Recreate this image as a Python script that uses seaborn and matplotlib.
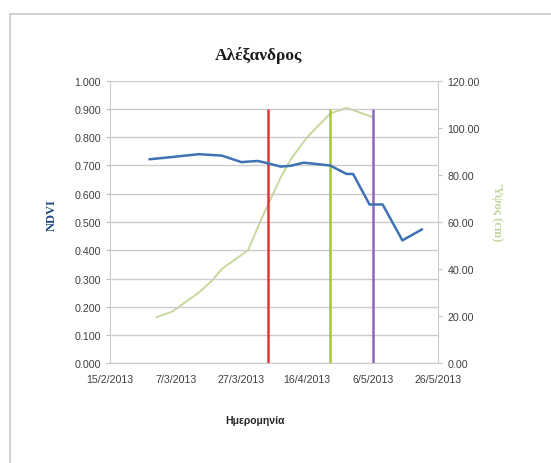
import matplotlib
matplotlib.use("Agg")
import matplotlib.pyplot as plt
from matplotlib.patches import Rectangle
import seaborn as sns
import pandas as pd

# ---------------- data ----------------
ndvi_dates = ["2013-02-27", "2013-03-06", "2013-03-14", "2013-03-21", "2013-03-27",
              "2013-04-01", "2013-04-04", "2013-04-08", "2013-04-11", "2013-04-15",
              "2013-04-23", "2013-04-26", "2013-04-28", "2013-04-30", "2013-05-05",
              "2013-05-09", "2013-05-15", "2013-05-21"]
ndvi_values = [0.722, 0.730, 0.740, 0.735, 0.712, 0.716, 0.708, 0.696, 0.699, 0.710,
               0.700, 0.682, 0.670, 0.670, 0.562, 0.562, 0.435, 0.474]

height_dates = ["2013-03-01", "2013-03-06", "2013-03-10", "2013-03-14", "2013-03-18",
                "2013-03-21", "2013-03-25", "2013-03-29", "2013-04-02", "2013-04-04",
                "2013-04-08", "2013-04-11", "2013-04-16", "2013-04-23", "2013-04-28",
                "2013-05-06"]
height_values = [19.5, 22.0, 26.0, 30.0, 35.0, 40.0, 44.0, 48.0, 61.0, 67.0,
                 79.0, 86.5, 96.0, 106.0, 108.5, 104.5]

event_dates = ["2013-04-04", "2013-04-23", "2013-05-06"]
event_tops = [0.900, 0.900, 0.900]
event_colors = ["#D8393A", "#A3C63B", "#8A66B8"]

x_ticks = ["2013-02-15", "2013-03-07", "2013-03-27", "2013-04-16", "2013-05-06", "2013-05-26"]
x_tick_labels = ["15/2/2013", "7/3/2013", "27/3/2013", "16/4/2013", "6/5/2013", "26/5/2013"]
ndvi_ticks = [0.0, 0.1, 0.2, 0.3, 0.4, 0.5, 0.6, 0.7, 0.8, 0.9, 1.0]
height_ticks = [0, 20, 40, 60, 80, 100, 120]

title = "Αλέξανδρος"
xlabel = "Ημερομηνία"
ylabel_left = "NDVI"
ylabel_right = "Ύψος (cm)"

# ---------------- style ----------------
sns.set_style("white")
plt.rcParams['font.family'] = ['Liberation Sans', 'DejaVu Sans']

df_ndvi = pd.DataFrame({"date": pd.to_datetime(ndvi_dates), "ndvi": ndvi_values})
df_h = pd.DataFrame({"date": pd.to_datetime(height_dates), "h": height_values})

fig = plt.figure(figsize=(5.51, 4.64), dpi=100)
fig.patches.append(Rectangle((10 / 551, -0.1), 1.2, (464 - 15) / 464 + 0.1,
                             transform=fig.transFigure, fill=False,
                             edgecolor="#C8C8C8", linewidth=1.2))

ax = fig.add_axes([110 / 551, (464 - 364.3) / 464, 328.5 / 551, 282.6 / 464])
ax2 = ax.twinx()

gridc = "#CCCCCC"
ax.set_ylim(0, 1.0)
ax.set_yticks(ndvi_ticks)
ax.set_yticklabels([f"{v:.3f}" for v in ndvi_ticks])
ax.yaxis.grid(True, color=gridc, linewidth=1.0)
ax.set_axisbelow(True)

ax2.set_ylim(0, 120)
ax2.set_yticks(height_ticks)
ax2.set_yticklabels([f"{v:.2f}" for v in height_ticks])

xt = pd.to_datetime(x_ticks)
ax.set_xlim(xt[0], xt[-1])
ax.set_xticks(xt)
ax.set_xticklabels(x_tick_labels)

sns.lineplot(data=df_h, x="date", y="h", ax=ax2, color="#C6D89C", linewidth=1.4)
ax.set_zorder(ax2.get_zorder() + 1)
ax.patch.set_visible(False)

for d, top, c in zip(event_dates, event_tops, event_colors):
    ax.vlines(pd.to_datetime(d), 0, top, color=c, linewidth=1.8, zorder=3)

sns.lineplot(data=df_ndvi, x="date", y="ndvi", ax=ax, color="#3F72B5", linewidth=1.8, zorder=4)

for a in (ax, ax2):
    a.spines["top"].set_visible(False)
    a.spines["left"].set_color(gridc)
    a.spines["bottom"].set_color(gridc)
    a.spines["right"].set_color(gridc)
    a.tick_params(axis="both", which="major", length=3, width=0.8, color="#BFBFBF",
                  labelsize=7.7, labelcolor="#404040", pad=3.5, direction="out")
    a.set_xlabel("")
    a.set_ylabel("")
ax.tick_params(axis="x", pad=4.5)
ax.spines["right"].set_visible(False)
ax2.spines["left"].set_visible(False)
ax2.spines["bottom"].set_visible(False)
ax.set_xlim(xt[0], xt[-1])

fig.text(259 / 551, 1 - 55 / 464, title, ha="center", va="center",
         family=["Liberation Serif", "DejaVu Serif"], fontweight="bold", fontsize=12.5, color="#1A1A1A")
fig.text(52 / 551, 1 - 215 / 464, ylabel_left, ha="center", va="center", rotation=90,
         family=["Liberation Serif", "DejaVu Serif"], fontweight="bold", fontsize=9, color="#1F497D")
fig.text(497 / 551, 1 - 212 / 464, ylabel_right, ha="center", va="center", rotation=270,
         family=["Liberation Serif", "DejaVu Serif"], fontweight="bold", fontsize=9, color="#C3D69B")
fig.text(255 / 551, 1 - 421 / 464, xlabel, ha="center", va="center",
         fontweight="bold", fontsize=7.5, color="#262626")

fig.savefig("out.png", dpi=100)
